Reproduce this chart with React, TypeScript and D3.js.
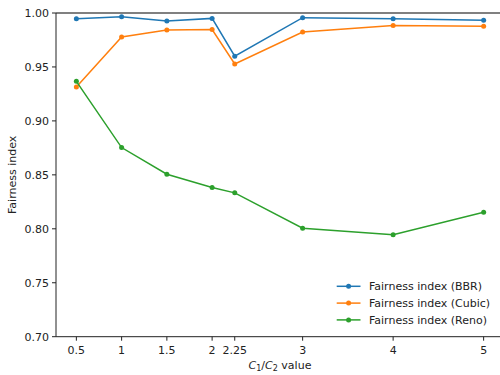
import React from 'react';
import * as d3 from 'd3';

const xValues = [0.5, 1, 1.5, 2, 2.25, 3, 4, 5];
const bbr = [0.9947, 0.9966, 0.9926, 0.995, 0.96, 0.9957, 0.9947, 0.9932];
const cubic = [0.9315, 0.9778, 0.9843, 0.9846, 0.9528, 0.9824, 0.9883, 0.9877];
const reno = [0.9367, 0.8753, 0.8506, 0.8383, 0.8333, 0.8006, 0.7944, 0.8154];
const seriesNames = ['Fairness index (BBR)', 'Fairness index (Cubic)', 'Fairness index (Reno)'];
const seriesColors = ['#1f77b4', '#ff7f0e', '#2ca02c'];
const xTicks = [0.5, 1, 1.5, 2, 2.25, 3, 4, 5];
const xTickLabels = ['0.5', '1', '1.5', '2', '2.25', '3', '4', '5'];
const yTicks = [0.7, 0.75, 0.8, 0.85, 0.9, 0.95, 1.0];

const W = 500;
const H = 375;
const FONT = 'DejaVu Sans, sans-serif';
const FS = 11;

export default function App() {
  const x = d3.scaleLinear().domain([0.275, 5.225]).range([56, 504]);
  const y = d3.scaleLinear().domain([0.7, 1.0]).range([336.7, 13]);

  const series = [bbr, cubic, reno];
  const line = d3.line<number>()
    .x((_, i) => x(xValues[i]))
    .y(d => y(d));

  const [x0, x1] = x.range();
  const yBottom = y(0.7);

  return (
    <svg width={W} height={H} style={{ position: 'absolute', left: 0, top: 0, fontFamily: FONT }}>
      <rect width={W} height={H} fill="#fff" />

      {/* reference line at 1.0 */}
      <line x1={x0} x2={x1} y1={y(1)} y2={y(1)} stroke="#808080" strokeWidth={2} />

      {series.map((vals, si) => (
        <g key={si}>
          <path d={line(vals) || ''} fill="none" stroke={seriesColors[si]} strokeWidth={1.5} />
          {vals.map((v, i) => (
            <circle key={i} cx={x(xValues[i])} cy={y(v)} r={2.5} fill={seriesColors[si]} />
          ))}
        </g>
      ))}

      {/* spines */}
      <line x1={x0} x2={x0} y1={y(1)} y2={yBottom} stroke="#222" strokeWidth={1} />
      <line x1={x0} x2={x1} y1={yBottom} y2={yBottom} stroke="#222" strokeWidth={1} />

      {/* y axis */}
      {yTicks.map(t => (
        <g key={t}>
          <line x1={x0 - 4} x2={x0} y1={y(t)} y2={y(t)} stroke="#222" strokeWidth={1} />
          <text x={x0 - 7} y={y(t)} dy="0.35em" textAnchor="end" fontSize={FS} fill="#222">
            {t.toFixed(2)}
          </text>
        </g>
      ))}

      {/* x axis */}
      {xTicks.map((t, i) => (
        <g key={t}>
          <line x1={x(t)} x2={x(t)} y1={yBottom} y2={yBottom + 4} stroke="#222" strokeWidth={1} />
          <text x={x(t)} y={353.5} textAnchor="middle" fontSize={FS} fill="#222">
            {xTickLabels[i]}
          </text>
        </g>
      ))}

      <text x={(x0 + x1) / 2} y={369} textAnchor="middle" fontSize={FS} fill="#222">
        <tspan fontStyle="italic">C</tspan>
        <tspan fontSize={8} dy={2}>1</tspan>
        <tspan dy={-2}>/</tspan>
        <tspan fontStyle="italic">C</tspan>
        <tspan fontSize={8} dy={2}>2</tspan>
        <tspan dy={-2}> value</tspan>
      </text>

      <text transform={`translate(15.5,${(y(1) + yBottom) / 2}) rotate(-90)`} textAnchor="middle" fontSize={FS} fill="#222">
        Fairness index
      </text>

      {/* legend */}
      {seriesNames.map((name, i) => {
        const ly = 286.3 + i * 16.8;
        return (
          <g key={name}>
            <line x1={336.7} x2={360.5} y1={ly} y2={ly} stroke={seriesColors[i]} strokeWidth={1.5} />
            <circle cx={348.6} cy={ly} r={2.5} fill={seriesColors[i]} />
            <text x={369} y={ly} dy="0.35em" fontSize={FS} fill="#222">{name}</text>
          </g>
        );
      })}
    </svg>
  );
}
